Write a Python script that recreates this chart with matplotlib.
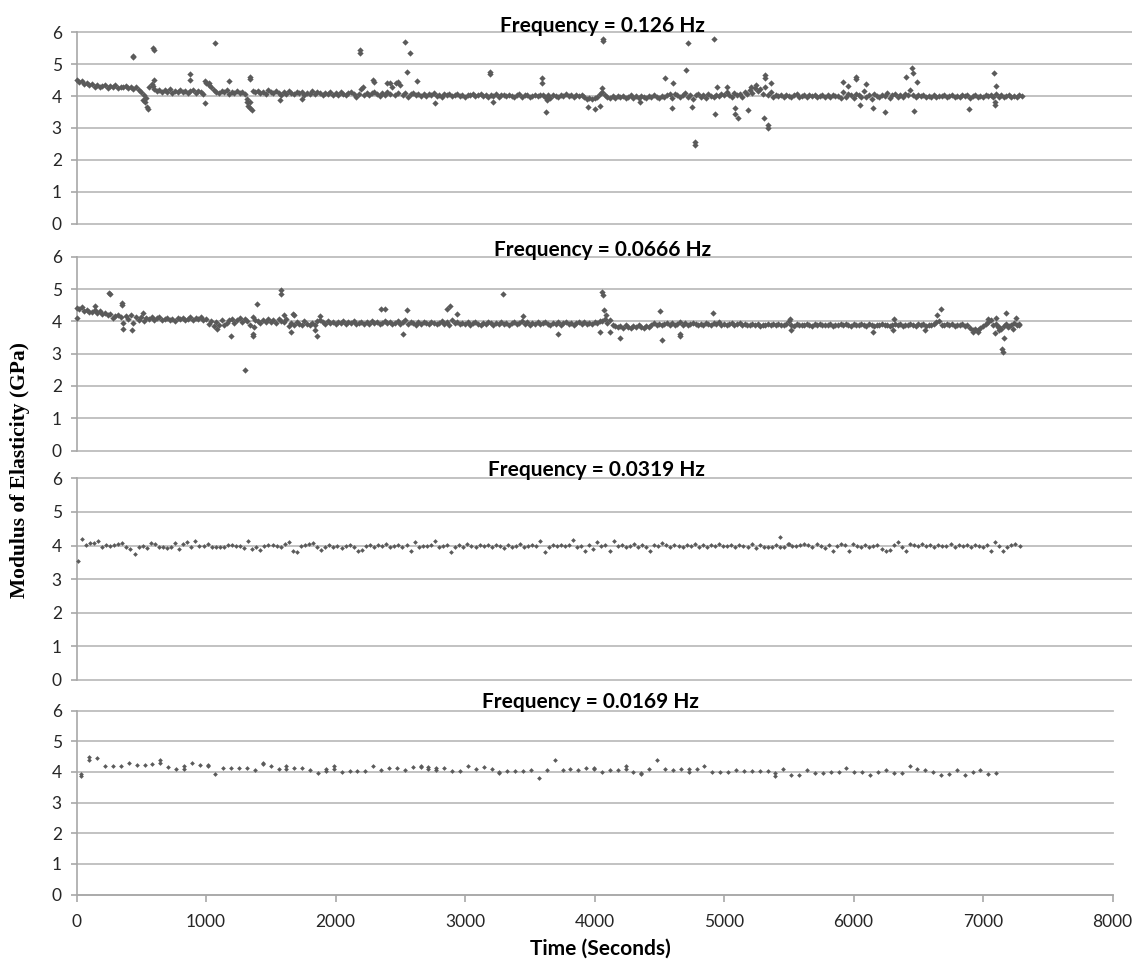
import numpy as np
import matplotlib
matplotlib.use("Agg")
import matplotlib.pyplot as plt

# ---------------------------------------------------------------------------
# Modulus of elasticity (GPa) versus time for four loading frequencies.
# Each series is sampled at a fixed interval; scattered readings that fall
# away from the main band are listed separately with their own times.
# ---------------------------------------------------------------------------

# 0.126 Hz  (band sampled every 20 s from t = 0)
e_126 = [
    4.52, 4.44, 4.47, 4.38, 4.41, 4.34, 4.37, 4.30, 4.35, 4.28,
    4.33, 4.36, 4.26, 4.31, 4.29, 4.35, 4.24, 4.30, 4.27, 4.33,
    4.25, 4.29, 4.22, 4.27, 4.18, 4.12, 4.02, 3.94, 4.28, 4.38,
    4.22, 4.16, 4.20, 4.12, 4.18, 4.14, 4.21, 4.10, 4.17, 4.13,
    4.19, 4.12, 4.16, 4.09, 4.15, 4.20, 4.11, 4.17, 4.13, 4.06,
    4.42, 4.36, 4.28, 4.20, 4.14, 4.10, 4.16, 4.12, 4.19, 4.08,
    4.14, 4.11, 4.17, 4.09, 4.13, 4.06, 3.92, 3.82, 4.15, 4.12,
    4.16, 4.10, 4.14, 4.08, 4.19, 4.12, 4.09, 4.15, 4.11, 4.05,
    4.13, 4.08, 4.16, 4.10, 4.07, 4.14, 4.09, 4.12, 4.04, 4.11,
    4.08, 4.15, 4.06, 4.12, 4.09, 4.03, 4.11, 4.07, 4.14, 4.05,
    4.10, 4.04, 4.12, 4.07, 4.02, 4.09, 4.13, 4.06, 3.97, 4.08,
    4.21, 4.05, 4.11, 4.03, 4.09, 4.14, 4.06, 4.00, 4.10, 4.04,
    4.12, 4.07, 4.30, 4.02, 4.09, 4.35, 4.05, 4.11, 3.98, 4.06,
    4.10, 4.03, 4.08, 4.01, 4.06, 3.99, 4.07, 4.04, 4.09, 4.00,
    4.05, 3.98, 4.06, 4.02, 4.08, 3.99, 4.04, 4.07, 4.01, 4.05,
    3.98, 4.04, 4.02, 4.07, 3.99, 4.03, 4.06, 4.00, 4.05, 3.97,
    4.03, 4.00, 4.06, 3.96, 4.02, 4.05, 3.99, 4.04, 4.01, 3.97,
    4.03, 4.06, 3.98, 4.02, 4.05, 3.97, 4.01, 4.04, 3.99, 4.03,
    4.05, 3.98, 4.02, 3.95, 4.04, 4.00, 3.97, 4.03, 4.01, 4.06,
    3.99, 4.03, 3.96, 4.02, 4.00, 4.05, 3.97, 3.92, 3.95, 3.90,
    3.94, 3.98, 4.08, 4.12, 4.05, 3.97, 3.93, 3.99, 3.95, 4.01,
    3.96, 4.00, 3.94, 3.98, 4.02, 3.95, 3.99, 3.93, 4.01, 3.97,
    3.94, 4.00, 3.96, 4.03, 3.98, 3.95, 4.01, 3.97, 4.04, 4.06,
    3.95, 4.08, 4.02, 3.96, 4.05, 4.10, 3.97, 4.04, 3.92, 4.02,
    4.07, 3.98, 4.03, 3.94, 4.06, 4.00, 3.96, 4.04, 3.99, 4.08,
    4.02, 4.12, 4.05, 3.98, 4.10, 4.03, 4.08, 3.96, 4.14, 4.06,
    4.18, 4.10, 4.25, 4.15, 4.22, 4.08, 4.28, 4.05, 4.12, 3.98,
    4.04, 3.99, 4.02, 3.96, 4.05, 4.00, 3.97, 4.03, 4.06, 3.98,
    4.01, 4.04, 3.97, 4.02, 3.99, 4.05, 3.96, 4.01, 4.03, 3.98,
    4.02, 3.97, 4.04, 3.99, 4.01, 3.95, 4.12, 3.96, 4.06, 4.02,
    3.94, 4.08, 4.03, 3.97, 4.15, 3.98, 4.04, 3.92, 4.06, 4.00,
    3.96, 4.05, 3.99, 4.10, 3.94, 4.02, 4.07, 3.97, 4.03, 3.98,
    4.08, 4.02, 4.18, 4.05, 3.96, 4.02, 3.99, 4.04, 3.97, 4.01,
    3.98, 4.03, 3.96, 4.01, 3.99, 4.04, 3.97, 4.00, 4.02, 3.96,
    4.01, 3.97, 4.04, 3.99, 4.02, 3.95, 4.00, 4.03, 3.98, 4.01,
    3.96, 4.02, 3.99, 4.05, 3.97, 4.08, 3.98, 4.03, 3.96, 4.00,
    4.02, 3.97, 4.01, 3.98, 4.03, 3.99,
]
t0_126, dt_126 = 0.0, 20.0
t_126_iso = [434, 438, 516, 530, 545, 554, 590, 595, 593, 597,
             876, 879, 992, 995, 1020, 1069, 1178, 1314, 1322, 1340,
             1353, 1340, 1343, 1571, 1739, 2189, 2191, 2215, 2292, 2295,
             2395, 2485, 2420, 2470, 2537, 2575, 2550, 2627, 2768, 3193,
             3196, 3219, 3592, 3594, 3626, 3630, 3952, 4004, 4042, 4063,
             4065, 4055, 4351, 4544, 4596, 4609, 4704, 4720, 4750, 4776,
             4778, 4925, 4931, 4943, 5021, 5085, 5088, 5108, 5188, 5210,
             5317, 5319, 5310, 5340, 5342, 5362, 5250, 5921, 5960, 6019,
             6021, 6050, 6097, 6153, 6243, 6405, 6454, 6456, 6470, 6488,
             6894, 7085, 7093, 7096, 7100]
e_126_iso = [5.25, 5.22, 3.87, 3.82, 3.66, 3.61, 4.31, 4.50, 5.50, 5.45,
             4.69, 4.50, 3.77, 4.47, 4.40, 5.65, 4.47, 3.82, 3.69, 3.64,
             3.56, 4.60, 4.55, 3.87, 3.90, 5.45, 5.34, 4.30, 4.50, 4.45,
             4.40, 4.45, 4.40, 4.40, 5.70, 5.34, 4.77, 4.48, 3.77, 4.74,
             4.70, 3.82, 4.58, 4.40, 3.50, 3.87, 3.66, 3.58, 3.68, 5.80,
             5.74, 4.24, 3.80, 4.57, 3.63, 4.40, 4.82, 5.68, 3.66, 2.56,
             2.46, 5.78, 3.45, 4.30, 4.30, 3.64, 3.45, 3.30, 3.56, 4.30,
             4.66, 4.58, 3.30, 3.08, 3.00, 4.40, 4.35, 4.45, 4.31, 4.60,
             4.55, 3.72, 4.38, 3.64, 3.50, 4.60, 4.87, 4.71, 3.53, 4.45,
             3.61, 4.73, 3.72, 3.82, 4.31]

# 0.0666 Hz  (band sampled every 20 s from t = 0)
e_0666 = [
    4.42, 4.38, 4.44, 4.33, 4.36, 4.30, 4.28, 4.34, 4.25, 4.31,
    4.22, 4.27, 4.18, 4.24, 4.10, 4.16, 4.21, 4.12, 3.95, 4.15,
    4.08, 4.18, 3.96, 4.12, 4.05, 4.14, 4.02, 4.10, 4.06, 4.13,
    4.04, 4.09, 4.12, 4.03, 4.07, 4.11, 4.05, 4.08, 4.02, 4.10,
    4.06, 4.11, 4.04, 4.08, 4.13, 4.03, 4.09, 4.06, 4.12, 4.05,
    4.08, 3.92, 4.02, 3.85, 3.98, 3.90, 4.05, 3.88, 3.96, 4.04,
    4.08, 3.95, 4.05, 4.10, 3.98, 4.06, 4.02, 3.90, 4.12, 4.04,
    4.01, 3.96, 4.04, 3.99, 4.07, 3.98, 4.03, 3.95, 4.06, 4.02,
    3.97, 4.08, 3.86, 3.94, 3.89, 3.98, 3.92, 3.87, 4.01, 3.93,
    3.88, 3.96, 3.90, 4.02, 4.05, 3.97, 3.92, 4.00, 3.94, 3.98,
    3.93, 3.99, 3.95, 4.02, 3.91, 3.97, 3.94, 4.00, 3.92, 3.96,
    3.99, 3.93, 3.97, 3.91, 4.01, 3.95, 3.98, 3.92, 3.96, 4.02,
    3.94, 3.98, 3.91, 3.96, 4.00, 3.93, 3.97, 4.05, 3.92, 3.99,
    3.95, 3.90, 3.97, 3.93, 3.99, 3.94, 3.91, 3.98, 3.95, 3.92,
    3.96, 4.00, 3.93, 3.97, 3.90, 4.05, 3.94, 3.98, 3.91, 3.95,
    3.92, 3.97, 3.90, 3.95, 3.99, 3.93, 3.88, 3.96, 3.92, 3.97,
    3.94, 3.90, 3.96, 3.93, 3.98, 3.91, 3.95, 3.89, 3.94, 3.97,
    3.92, 3.96, 4.02, 3.93, 3.98, 3.90, 3.95, 3.92, 3.97, 3.91,
    3.95, 3.99, 3.92, 3.88, 3.96, 3.93, 3.97, 3.90, 3.94, 3.98,
    3.92, 3.96, 3.90, 3.95, 3.99, 3.93, 3.97, 3.91, 3.95, 3.92,
    3.98, 3.94, 4.02, 4.00, 4.08, 3.95, 4.03, 3.90, 3.86, 3.82,
    3.85, 3.80, 3.87, 3.82, 3.78, 3.84, 3.81, 3.88, 3.83, 3.79,
    3.86, 3.82, 3.88, 3.95, 3.90, 3.93, 3.87, 3.91, 3.96, 3.89,
    3.94, 3.88, 3.92, 3.97, 3.90, 3.94, 3.89, 3.93, 3.96, 3.91,
    3.88, 3.93, 3.90, 3.95, 3.91, 3.87, 3.94, 3.92, 3.97, 3.90,
    3.93, 3.89, 3.92, 3.95, 3.88, 3.91, 3.94, 3.89, 3.93, 3.90,
    3.87, 3.91, 3.89, 3.93, 3.86, 3.90, 3.88, 3.92, 3.89, 3.91,
    3.88, 3.92, 3.87, 3.90, 3.93, 4.02, 3.89, 3.86, 3.91, 3.88,
    3.90, 3.87, 3.92, 3.89, 3.85, 3.91, 3.88, 3.93, 3.87, 3.90,
    3.89, 3.92, 3.86, 3.90, 3.88, 3.93, 3.87, 3.91, 3.89, 3.85,
    3.91, 3.87, 3.90, 3.93, 3.88, 3.86, 3.92, 3.89, 3.84, 3.90,
    3.88, 3.92, 3.87, 3.90, 3.85, 3.89, 3.93, 3.88, 3.91, 3.86,
    3.90, 3.87, 3.92, 3.89, 3.86, 3.91, 3.88, 3.93, 3.85, 3.90,
    3.88, 3.92, 3.97, 4.02, 3.90, 3.87, 3.91, 3.88, 3.93, 3.86,
    3.90, 3.87, 3.92, 3.84, 3.89, 3.78, 3.74, 3.76, 3.72, 3.80,
    3.86, 3.93, 3.98, 4.03, 3.88, 3.92, 3.82, 3.75, 3.86, 3.92,
    3.84, 3.90, 3.96, 3.87, 3.91,
]
t0_0666, dt_0666 = 0.0, 20.0
t_0666_iso = [2, 143, 254, 256, 349, 351, 362, 426, 516, 1082,
              1193, 1301, 1360, 1362, 1370, 1391, 1579, 1581, 1600, 1657,
              1675, 1678, 1842, 1855, 1880, 2348, 2382, 2524, 2550, 2859,
              2884, 2936, 3296, 3450, 3720, 4042, 4120, 4060, 4062, 4073,
              4090, 4196, 4506, 4519, 4660, 4662, 4917, 5509, 5520, 6153,
              6307, 6310, 6552, 6642, 6676, 6920, 6960, 7041, 7093, 7100,
              7115, 7125, 7149, 7151, 7162, 7177, 7190, 7230, 7255, 7280]
e_0666_iso = [4.10, 4.47, 4.88, 4.84, 4.57, 4.50, 3.77, 3.74, 4.25, 3.77,
              3.53, 2.50, 3.62, 3.53, 3.82, 4.53, 4.97, 4.86, 4.20, 3.67,
              4.24, 4.18, 3.74, 3.53, 4.15, 4.37, 4.37, 3.60, 4.34, 4.39,
              4.47, 4.24, 4.83, 4.16, 3.62, 3.67, 3.67, 4.92, 4.81, 4.36,
              4.19, 3.48, 4.31, 3.43, 3.62, 3.53, 4.26, 4.08, 3.74, 3.67,
              3.72, 4.08, 3.74, 4.19, 4.37, 3.67, 3.68, 4.08, 3.65, 4.11,
              3.82, 3.74, 3.15, 3.05, 3.49, 4.26, 3.82, 3.77, 4.11, 3.88]

# 0.0319 Hz  (one reading per cycle, starting at t = 9 s)
e_0319 = [
    3.55, 4.18, 4.02, 4.08, 4.07, 4.12, 3.95, 4.03, 4.00, 4.02,
    4.05, 4.07, 3.95, 3.90, 3.75, 3.97, 4.00, 3.93, 4.08, 4.05,
    3.95, 3.95, 3.93, 3.97, 4.08, 3.90, 4.05, 4.10, 3.97, 4.12,
    4.00, 4.00, 4.05, 3.97, 3.95, 3.95, 3.97, 4.02, 4.02, 3.98,
    3.98, 3.93, 4.12, 3.90, 3.95, 3.88, 4.00, 4.02, 4.02, 4.00,
    3.97, 4.05, 4.10, 3.85, 3.80, 3.98, 4.03, 4.05, 4.08, 3.96,
    3.88, 3.97, 4.02, 3.95, 4.00, 3.93, 3.99, 4.02, 3.97, 3.85,
    3.86, 4.00, 4.03, 3.96, 4.01, 3.98, 4.04, 3.95, 3.99, 4.02,
    3.97, 4.03, 3.85, 4.10, 3.96, 4.00, 3.98, 4.02, 4.12, 3.95,
    3.99, 4.03, 3.80, 3.96, 4.01, 3.97, 4.04, 3.98, 3.95, 4.02,
    3.98, 4.01, 3.96, 4.03, 3.99, 3.94, 4.02, 3.97, 4.00, 4.04,
    3.96, 4.00, 4.03, 3.98, 4.12, 3.80, 3.97, 4.02, 3.99, 4.01,
    3.98, 4.03, 4.15, 3.97, 4.00, 3.85, 4.02, 3.90, 4.10, 3.98,
    4.02, 3.85, 4.12, 3.99, 4.03, 3.96, 4.00, 4.04, 3.97, 4.01,
    3.95, 3.85, 4.02, 3.98, 4.08, 4.01, 3.97, 4.03, 3.99, 3.96,
    4.02, 3.98, 4.04, 3.97, 4.01, 3.95, 4.03, 3.99, 4.05, 3.98,
    4.00, 4.03, 3.97, 4.02, 3.99, 3.96, 4.04, 3.93, 4.01, 3.97,
    3.95, 3.95, 4.02, 4.25, 3.95, 4.05, 4.00, 3.98, 4.03, 4.06,
    4.01, 3.97, 4.04, 3.99, 3.92, 4.02, 3.85, 3.98, 4.05, 4.03,
    3.85, 4.06, 4.00, 3.97, 4.03, 3.95, 3.99, 4.02, 3.91, 3.85,
    3.88, 4.01, 4.10, 3.96, 3.85, 4.05, 4.02, 3.98, 4.04, 3.99,
    4.01, 3.96, 4.03, 3.99, 4.00, 4.04, 3.97, 4.02, 3.98, 4.01,
    3.97, 4.03, 3.99, 3.95, 4.02, 3.85, 4.10, 3.98, 3.85, 3.95,
    4.03, 4.04, 4.00,
]
t0_0319, dt_0319 = 9.0, 31.35
t_0319_iso = [5430, 5505]
e_0319_iso = [3.95, 4.05]

# 0.0169 Hz  (one reading per cycle, starting at t = 38 s)
e_0169 = [
    3.93, 4.50, 4.45, 4.20, 4.20, 4.20, 4.30, 4.23, 4.22, 4.27,
    4.37, 4.17, 4.10, 4.20, 4.30, 4.23, 4.22, 3.93, 4.13, 4.12,
    4.13, 4.13, 4.06, 4.28, 4.20, 4.08, 4.20, 4.13, 4.13, 4.07,
    3.96, 4.10, 4.20, 3.98, 4.03, 4.03, 4.03, 4.18, 4.05, 4.12,
    4.13, 4.05, 4.15, 4.20, 4.15, 4.14, 4.12, 4.03, 4.03, 4.18,
    4.08, 4.17, 4.10, 4.00, 4.03, 4.03, 4.03, 4.07, 3.80, 4.05,
    4.40, 4.07, 4.10, 4.07, 4.12, 4.10, 3.98, 4.05, 4.07, 4.20,
    4.00, 3.95, 4.10, 4.38, 4.08, 4.05, 4.10, 4.08, 4.08, 4.18,
    4.00, 4.00, 4.00, 4.07, 4.03, 4.03, 4.03, 4.03, 3.95, 4.10,
    3.90, 3.90, 4.05, 3.97, 3.97, 4.00, 3.98, 4.13, 3.98, 4.00,
    3.90, 3.98, 4.07, 3.95, 3.95, 4.20, 4.10, 4.07, 4.00, 3.90,
    3.92, 4.07, 3.90, 4.00, 4.05, 3.93, 3.97,
]
t0_0169, dt_0169 = 38.0, 60.9
# second reading taken within the same cycle (cycle index, value)
n_0169_dup = [0, 1, 10, 13, 16, 23, 26, 31, 32, 43, 44, 45, 53, 65, 69, 71, 77, 88]
e_0169_dup = [3.88, 4.38, 4.28, 4.10, 4.19, 4.24, 4.10, 4.03, 4.08, 4.16,
              4.08, 4.07, 3.95, 4.12, 4.10, 3.92, 4.00, 3.88]

panels = [
    ("Frequency = 0.126 Hz", e_126, t0_126, dt_126, t_126_iso, e_126_iso),
    ("Frequency = 0.0666 Hz", e_0666, t0_0666, dt_0666, t_0666_iso, e_0666_iso),
    ("Frequency = 0.0319 Hz", e_0319, t0_0319, dt_0319, t_0319_iso, e_0319_iso),
    ("Frequency = 0.0169 Hz", e_0169, t0_0169, dt_0169, None, None),
]

x_ticks = [0, 1000, 2000, 3000, 4000, 5000, 6000, 7000, 8000]
y_ticks = [0, 1, 2, 3, 4, 5, 6]

# ---------------------------------------------------------------------------
W, H = 1132, 964
fig = plt.figure(figsize=(W / 100, H / 100), dpi=100)
fig.patch.set_facecolor("white")

SANS = ["Lato", "DejaVu Sans"]
GRID = "#bdbdbd"
AXIS = "#a8a8a8"
MARK = "#5a5a5a"
TXT = "#262626"

X0_PX, X8000_PX = 76.5, 1112.5
PX_PER_S = (X8000_PX - X0_PX) / 8000.0

# (top of 6 line, 0 line, right edge) in pixels
frames = [(32.3, 223.7, W), (256.7, 450.5, W), (478.3, 680.0, W),
          (710.5, 894.5, X8000_PX)]
title_pos = [(602, 31.5), (603, 255.5), (596, 476.5), (590, 707.5)]
marker_sz = [3.2, 3.2, 2.4, 2.4]


def add_px_axes(left, right, top, bottom):
    return fig.add_axes([left / W, 1 - bottom / H, (right - left) / W,
                         (bottom - top) / H])


axes = []
for k, (title, vals, t0, dt, t_iso, e_iso) in enumerate(panels):
    top, bot, right = frames[k]
    ax = add_px_axes(X0_PX, right, top, bot)
    ax.set_xlim(0, (right - X0_PX) / PX_PER_S)
    ax.set_ylim(0, 6)
    ax.patch.set_alpha(0)
    for s in ("top", "right", "bottom"):
        ax.spines[s].set_visible(False)
    ax.spines["left"].set_color(AXIS)
    ax.spines["left"].set_linewidth(1.2)
    for v in y_ticks:
        ax.axhline(v, color=GRID, lw=1.3, zorder=0, clip_on=False)
    ax.set_yticks(y_ticks)
    ax.tick_params(axis="y", direction="out", length=4.5, width=1.2,
                   color=AXIS, pad=6, labelsize=12.5, labelcolor=TXT)
    for lab in ax.get_yticklabels():
        lab.set_family(SANS)

    t = t0 + dt * np.arange(len(vals))
    ax.plot(t, vals, ls="none", marker="D", ms=marker_sz[k], mew=0,
            color=MARK, clip_on=False, zorder=3)
    if t_iso is not None:
        ax.plot(t_iso, e_iso, ls="none", marker="D", ms=marker_sz[k],
                mew=0, color=MARK, clip_on=False, zorder=3)
    if k == 3:
        t_dup = t0 + dt * np.asarray(n_0169_dup)
        ax.plot(t_dup, e_0169_dup, ls="none", marker="D", ms=marker_sz[k],
                mew=0, color=MARK, clip_on=False, zorder=3)
        ax.spines["bottom"].set_visible(True)
        ax.spines["bottom"].set_color(AXIS)
        ax.spines["bottom"].set_linewidth(1.2)
        ax.set_xticks(x_ticks)
        ax.tick_params(axis="x", direction="out", length=5, width=1.2,
                       color=AXIS, pad=9, labelsize=12.5, labelcolor=TXT)
        for lab in ax.get_xticklabels():
            lab.set_family(SANS)
    else:
        ax.set_xticks([])

    tx, ty = title_pos[k]
    fig.text(tx / W, 1 - ty / H, title, ha="center", va="baseline",
             fontsize=15, fontweight="bold", family=SANS, color="black")
    axes.append(ax)

fig.text(600 / W, 1 - 955 / H, "Time (Seconds)", ha="center",
         va="baseline", fontsize=15, fontweight="bold", family=SANS,
         color="black")
fig.text(20 / W, 1 - 470 / H, "Modulus of Elasticity (GPa)", rotation=90,
         ha="center", va="center", fontsize=15.5, fontweight="bold",
         family=["Liberation Serif", "DejaVu Serif"], color="black")

fig.savefig("out.png", dpi=100, facecolor="white")
